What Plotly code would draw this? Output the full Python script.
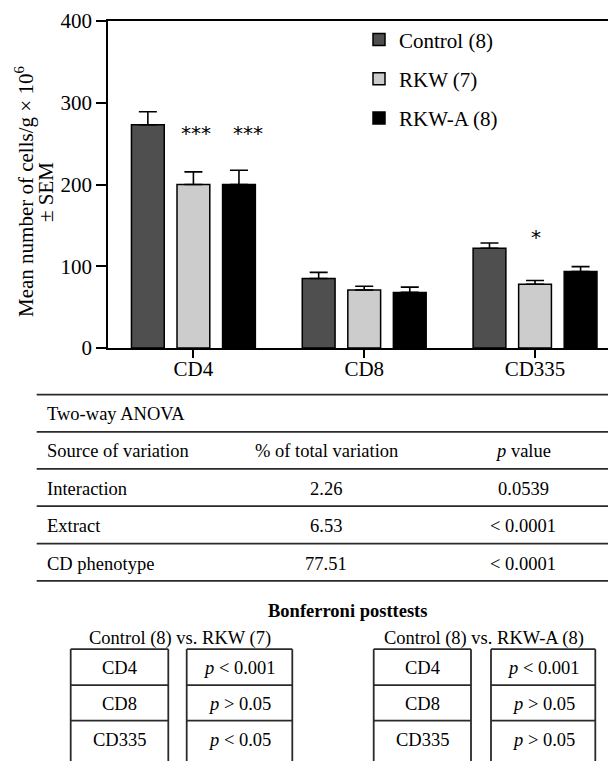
import plotly.graph_objects as go

# ---------------- data ----------------
categories = ["CD4", "CD8", "CD335"]
groups = ["Control (8)", "RKW (7)", "RKW-A (8)"]
control_mean = [273, 85, 122]
control_sem = [16, 7.5, 6.5]
rkw_mean = [200, 71, 78]
rkw_sem = [15.5, 4.5, 4.5]
rkwa_mean = [200, 68, 93.5]
rkwa_sem = [17.5, 6.5, 6]
y_ticks = [0, 100, 200, 300, 400]

# significance marks: category index, group index, label, y value
sig_cat = [0, 0, 2]
sig_group = [1, 2, 1]
sig_text = ["***", "***", "*"]
sig_y = [262.5, 262.5, 136]

y_title_lines = ["Mean number of cells/g × 10<sup>6</sup>", "± SEM"]

anova_title = "Two-way ANOVA"
anova_header = ["Source of variation", "% of total variation", "<i>p</i> value"]
anova_source = ["Interaction", "Extract", "CD phenotype"]
anova_pct = ["2.26", "6.53", "77.51"]
anova_p = ["0.0539", "< 0.0001", "< 0.0001"]

bonf_title = "Bonferroni posttests"
bonf_comparisons = ["Control (8) vs. RKW (7)", "Control (8) vs. RKW-A (8)"]
bonf_rows = ["CD4", "CD8", "CD335"]
bonf_p_rkw = ["<i>p</i> < 0.001", "<i>p</i> > 0.05", "<i>p</i> < 0.05"]
bonf_p_rkwa = ["<i>p</i> < 0.001", "<i>p</i> > 0.05", "<i>p</i> > 0.05"]

# ---------------- styles ----------------
colors = ["#4f4f4f", "#cccccc", "#000000"]
SERIF = "Liberation Serif"
CHART_FS = 21
TABLE_FS = 18.5
BARGAP = 0.2
BARGROUPGAP = 0.28
sig_xshift = [3, 9, 1]

# the page is shown with an 8px body margin; work in screenshot pixel coords
OFF = 8
SW, SH = 616, 761
W, H = SW - OFF, SH - OFF
L, R, T, B = 108, 616, 20.7, 348.3  # plot area in screenshot pixels


def px(x):
    return (x - L) / (R - L)


def py(y):
    return (B - y) / (B - T)


fig = go.Figure()
means = [control_mean, rkw_mean, rkwa_mean]
sems = [control_sem, rkw_sem, rkwa_sem]
for i, g in enumerate(groups):
    fig.add_trace(go.Bar(
        x=categories, y=means[i], name=g, legendgroup=g,
        marker=dict(color=colors[i], line=dict(color="black", width=1.5)),
        error_y=dict(type="data", array=sems[i], arrayminus=[0] * len(sems[i]),
                     symmetric=False, color="black", thickness=1.6, width=9),
    ))

annotations = []
slot = (1 - BARGAP) / len(groups)
for c, gi, t, yv, xs in zip(sig_cat, sig_group, sig_text, sig_y, sig_xshift):
    annotations.append(dict(
        x=c + (gi - 1) * slot, y=yv, xref="x", yref="y", text=t, showarrow=False,
        xshift=xs, font=dict(family="DejaVu Sans", size=20, color="black"),
        xanchor="center", yanchor="middle"))

# y axis title (two lines)
for txt, xx in zip(y_title_lines, [25, 46]):
    annotations.append(dict(
        x=px(xx), y=py(192), xref="paper", yref="paper", textangle=-90,
        text=txt, showarrow=False,
        font=dict(family=SERIF, size=CHART_FS, color="black"),
        xanchor="center", yanchor="middle"))

shapes = []
line_col = "#2a2a2a"

# ANOVA table
hlines = [395, 432.3, 469.3, 506.7, 544.3, 581.7]
for yy in hlines:
    shapes.append(dict(type="line", xref="paper", yref="paper",
                       x0=px(36.7), x1=px(620), y0=py(yy), y1=py(yy),
                       line=dict(color=line_col, width=1.8)))

row_y = [451.7, 490, 526.7, 565]
col_x = [45, 326, 523]
tfont = dict(family=SERIF, size=TABLE_FS, color="black")
annotations.append(dict(x=px(col_x[0]), y=py(414), xref="paper", yref="paper",
                        text=anova_title, showarrow=False, font=tfont,
                        xanchor="left", yanchor="middle"))
rows = [anova_header] + [[s, v, p] for s, v, p in zip(anova_source, anova_pct, anova_p)]
for r, yy in zip(rows, row_y):
    for j, txt in enumerate(r):
        annotations.append(dict(x=px(col_x[j]), y=py(yy), xref="paper", yref="paper",
                                text=txt, showarrow=False, font=tfont,
                                xanchor="left" if j == 0 else "center", yanchor="middle"))

# Bonferroni posttests
annotations.append(dict(x=px(347), y=py(612), xref="paper", yref="paper",
                        text="<b>" + bonf_title + "</b>", showarrow=False, font=tfont,
                        xanchor="center", yanchor="middle"))
sub_x = [180, 484]
box_x = [[(70.7, 168.3), (186.7, 292.3)], [(373.7, 471), (491, 595.3)]]
box_top = 650
row_lines = [650, 686, 721.7]
cell_y = [669, 705, 741.5]
pvals = [bonf_p_rkw, bonf_p_rkwa]
for k in range(2):
    annotations.append(dict(x=px(sub_x[k]), y=py(639.5), xref="paper", yref="paper",
                            text=bonf_comparisons[k], showarrow=False, font=tfont,
                            xanchor="center", yanchor="middle"))
    for bi, (x0, x1) in enumerate(box_x[k]):
        for xx in (x0, x1):
            shapes.append(dict(type="line", xref="paper", yref="paper",
                               x0=px(xx), x1=px(xx), y0=py(box_top), y1=py(775),
                               line=dict(color=line_col, width=1.8)))
        for yy in row_lines:
            shapes.append(dict(type="line", xref="paper", yref="paper",
                               x0=px(x0), x1=px(x1), y0=py(yy), y1=py(yy),
                               line=dict(color=line_col, width=1.8)))
        texts = bonf_rows if bi == 0 else pvals[k]
        for txt, yy in zip(texts, cell_y):
            annotations.append(dict(x=px((x0 + x1) / 2), y=py(yy), xref="paper", yref="paper",
                                    text=txt, showarrow=False, font=tfont,
                                    xanchor="center", yanchor="middle"))

axis_font = dict(family=SERIF, size=CHART_FS, color="black")
fig.update_layout(
    width=W, height=H,
    margin=dict(l=L - OFF, r=W - (R - OFF), t=T - OFF, b=H - (B - OFF), autoexpand=False),
    paper_bgcolor="white", plot_bgcolor="white",
    barmode="group", bargap=BARGAP, bargroupgap=BARGROUPGAP,
    font=axis_font,
    showlegend=True,
    legend=dict(x=px(359), y=py(19), xanchor="left", yanchor="top",
                bgcolor="rgba(0,0,0,0)", font=axis_font,
                tracegroupgap=9, traceorder="grouped"),
    xaxis=dict(range=[-0.5, 2.474], showline=True, linecolor="black", linewidth=1.5,
               mirror=True, ticks="outside", ticklen=8, tickwidth=1.5, tickcolor="black",
               ticklabelstandoff=-7,
               tickfont=axis_font, showgrid=False, zeroline=False, fixedrange=True),
    yaxis=dict(range=[0, 400], tickvals=y_ticks, showline=True, linecolor="black",
               linewidth=1.5, ticks="outside", ticklen=10, tickwidth=1.5,
               tickfont=axis_font, tickcolor="black", showgrid=False, zeroline=False),
    annotations=annotations, shapes=shapes,
)

fig.write_html("out.html")
